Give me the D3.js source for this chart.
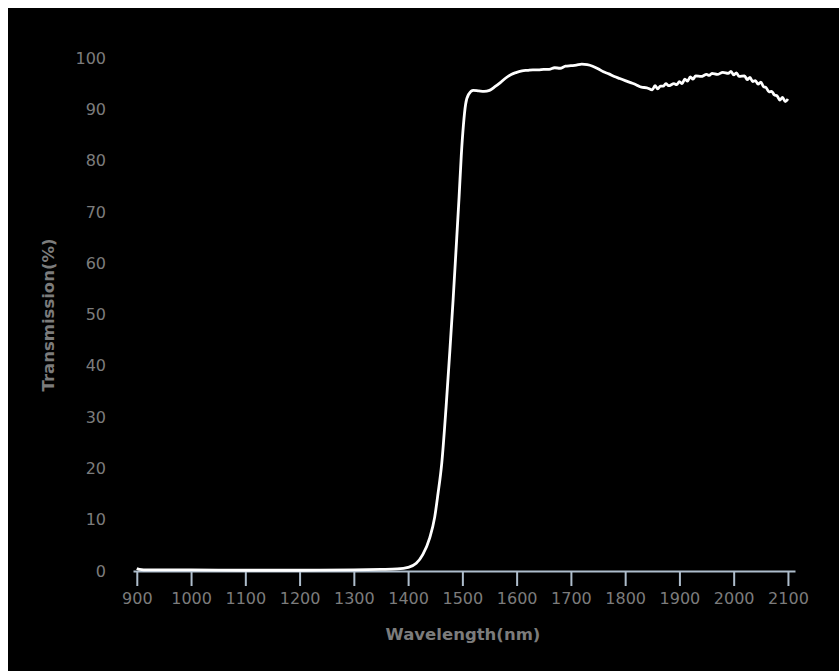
<!DOCTYPE html>
<html>
<head>
<meta charset="utf-8">
<script src="https://cdn.jsdelivr.net/npm/d3@7"></script>
<style>
  html, body { margin: 0; padding: 0; background: #ffffff; }
  svg { display: block; }
</style>
</head>
<body>
<svg id="chart" width="839" height="671"></svg>
<script>
// ---- data ----
const wavelengths = [
  900, 905, 920, 1000, 1100, 1200, 1300, 1350, 1380, 1400, 1415, 1427, 1440, 1449, 1455, 1462, 1470, 1477, 1483, 1488,
  1494, 1498, 1502, 1506, 1512, 1520, 1530, 1540, 1550, 1560, 1570, 1580, 1590, 1600, 1610, 1620, 1630, 1640, 1650, 1660,
  1670, 1680, 1690, 1700, 1710, 1720, 1730, 1740, 1750, 1760, 1770, 1780, 1790, 1800, 1810, 1820, 1830, 1840, 1850, 1855,
  1860, 1865, 1870, 1875, 1880, 1890, 1895, 1900, 1905, 1910, 1915, 1920, 1925, 1930, 1940, 1950, 1955, 1960, 1970, 1980,
  1990, 1995, 2000, 2005, 2010, 2020, 2025, 2030, 2035, 2040, 2045, 2050, 2055, 2060, 2065, 2070, 2075, 2080, 2085, 2090,
  2095, 2100
];
const transmission = [
  0.5, 0.3, 0.2, 0.2, 0.15, 0.15, 0.2, 0.3, 0.4, 0.7, 1.5, 3.2, 6.5, 10.5, 15, 21, 32, 43, 53, 62,
  73, 81, 87, 91, 93, 93.7, 93.6, 93.5, 93.7, 94.4, 95.2, 96.1, 96.8, 97.2, 97.5, 97.6, 97.7, 97.7, 97.8, 97.8,
  98.1, 98.0, 98.4, 98.5, 98.6, 98.8, 98.7, 98.4, 97.9, 97.3, 96.9, 96.4, 96.0, 95.6, 95.2, 94.8, 94.3, 94.2, 93.8, 94.6,
  94.0, 94.5, 94.5, 95.0, 94.6, 95.0, 94.8, 95.4, 95.0, 95.9, 95.5, 96.3, 95.9, 96.5, 96.4, 96.8, 96.6, 97.0, 96.8, 97.2,
  97.0, 97.4, 96.7, 97.1, 96.4, 96.5, 95.8, 96.2, 95.4, 95.6, 94.9, 95.3, 94.4, 94.2, 93.4, 93.5, 92.8, 92.6, 91.8, 92.3,
  91.5, 92.0
];
const xTicks = [900, 1000, 1100, 1200, 1300, 1400, 1500, 1600, 1700, 1800, 1900, 2000, 2100];
const yTicks = [0, 10, 20, 30, 40, 50, 60, 70, 80, 90, 100];
const xTitle = "Wavelength(nm)";
const yTitle = "Transmission(%)";

// ---- chart ----
const svg = d3.select("#chart");
svg.append("rect").attr("x", 8).attr("y", 8).attr("width", 831).attr("height", 663).attr("fill", "#000");

const x = d3.scaleLinear().domain([893, 2113]).range([133, 795]);
const y = d3.scaleLinear().domain([0, 100]).range([571, 58]);

const font = "'DejaVu Sans', Verdana, sans-serif";
const labelColor = "#7c7c7c";
const axisColor = "#aebdcc";

const xAxis = svg.append("g")
  .attr("transform", "translate(0,571)")
  .call(d3.axisBottom(x).tickValues(xTicks).tickFormat(d3.format("d")).tickSize(15).tickPadding(7).tickSizeOuter(0));
xAxis.select(".domain").attr("stroke", axisColor).attr("stroke-width", 2);
xAxis.selectAll(".tick line").attr("stroke", axisColor).attr("stroke-width", 2);
xAxis.selectAll(".tick text").attr("fill", labelColor).style("font-family", font).style("font-size", "16px");

const yAxis = svg.append("g")
  .attr("transform", "translate(110,0)")
  .call(d3.axisLeft(y).tickValues(yTicks).tickSize(0).tickPadding(4));
yAxis.select(".domain").remove();
yAxis.selectAll(".tick text").attr("fill", labelColor).style("font-family", font).style("font-size", "16px");

const data = wavelengths.map((w, i) => [w, transmission[i]]);
svg.append("path")
  .datum(data)
  .attr("fill", "none")
  .attr("stroke", "#ffffff")
  .attr("stroke-width", 2.8)
  .attr("stroke-linejoin", "round")
  .attr("d", d3.line().x(d => x(d[0])).y(d => y(d[1])).curve(d3.curveMonotoneX));

svg.append("text")
  .attr("x", 463).attr("y", 640)
  .attr("text-anchor", "middle")
  .attr("fill", labelColor)
  .style("font-family", font).style("font-size", "16.5px").style("font-weight", "bold")
  .text(xTitle);

svg.append("text")
  .attr("transform", "translate(54,315) rotate(-90)")
  .attr("text-anchor", "middle")
  .attr("fill", labelColor)
  .style("font-family", font).style("font-size", "16.5px").style("font-weight", "bold")
  .text(yTitle);
</script>
</body>
</html>
